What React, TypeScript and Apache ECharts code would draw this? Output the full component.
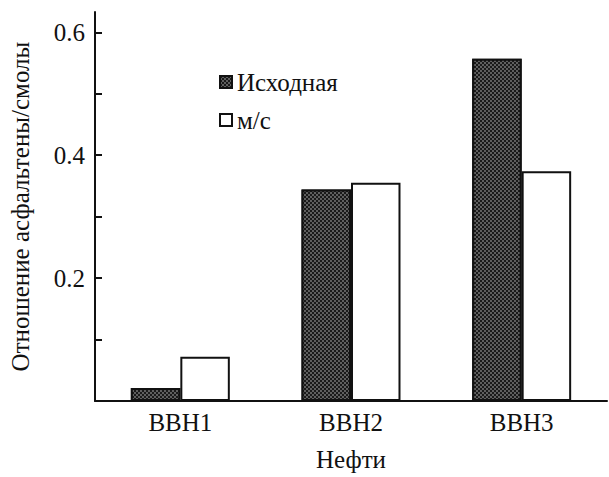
import React, { useEffect, useRef } from "react";
import * as echarts from "echarts";

const categories = ["BBH1", "BBH2", "BBH3"];
const seriesNames = ["Исходная", "м/с"];
const initialValues = [0.021, 0.344, 0.557];
const msValues = [0.072, 0.355, 0.374];
const yTickValues = [0.1, 0.2, 0.3, 0.4, 0.5, 0.6];
const yLabelValues = [0.2, 0.4, 0.6];
const xAxisTitle = "Нефти";
const yAxisTitle = "Отношение асфальтены/смолы";

const FONT = "Liberation Serif";

export default function App() {
  const ref = useRef<HTMLDivElement>(null);
  useEffect(() => {
    if (!ref.current) return;
    const chart = echarts.init(ref.current, undefined, { renderer: "svg" });
    const hatch = {
      symbol: "rect",
      symbolSize: 0.6,
      color: "#ffffff",
      backgroundColor: "#1a1a1a",
      dashArrayX: [[2, 2], [0, 2, 2, 0]],
      dashArrayY: [2, 0],
      rotation: 0,
    };
    const txt = { fontFamily: FONT, fontSize: 25, color: "#111" };
    chart.setOption({
      animation: false,
      textStyle: { fontFamily: FONT },
      grid: { left: 93, right: 2, top: 12, bottom: 69, containLabel: false },
      legend: {
        orient: "vertical",
        left: 214,
        top: 64,
        itemWidth: 12,
        itemHeight: 12,
        itemGap: 12,
        icon: "rect",
        itemStyle: { borderWidth: 2, borderColor: "#111" },
        textStyle: { ...txt, lineHeight: 26 },
        data: seriesNames,
      },
      xAxis: {
        type: "category",
        data: categories,
        name: xAxisTitle,
        nameLocation: "middle",
        nameGap: 46,
        nameTextStyle: { ...txt },
        axisLine: { lineStyle: { color: "#111", width: 2 } },
        axisTick: { inside: true, length: 7, lineStyle: { color: "#111", width: 2 } },
        axisLabel: { ...txt, margin: 9 },
      },
      yAxis: {
        type: "value",
        min: 0,
        max: 0.633,
        name: yAxisTitle,
        nameLocation: "middle",
        nameGap: 62,
        nameTextStyle: { ...txt },
        splitLine: { show: false },
        axisLine: { show: true, lineStyle: { color: "#111", width: 2 } },
        axisTick: {
          show: true,
          inside: true,
          length: 7,
          customValues: yTickValues,
          lineStyle: { color: "#111", width: 2 },
        },
        axisLabel: {
          ...txt,
          margin: 10,
          customValues: yLabelValues,
          formatter: (v: number) => v.toFixed(1),
        },
      },
      series: [
        {
          name: seriesNames[0],
          type: "bar",
          data: initialValues,
          barGap: "0%",
          barCategoryGap: "42%",
          itemStyle: { color: "#1a1a1a", decal: hatch, borderColor: "#111", borderWidth: 2 },
        },
        {
          name: seriesNames[1],
          type: "bar",
          data: msValues,
          barGap: "0%",
          barCategoryGap: "42%",
          itemStyle: { color: "#ffffff", borderColor: "#111", borderWidth: 2 },
        },
      ],
    });
    return () => chart.dispose();
  }, []);
  return (
    <>
      <style>{`#chart-root svg text { font-family: "Liberation Serif", serif !important; }`}</style>
      <div id="chart-root" ref={ref} style={{ width: 609, height: 477, position: "absolute", left: 0, top: 0 }} />
    </>
  );
}
